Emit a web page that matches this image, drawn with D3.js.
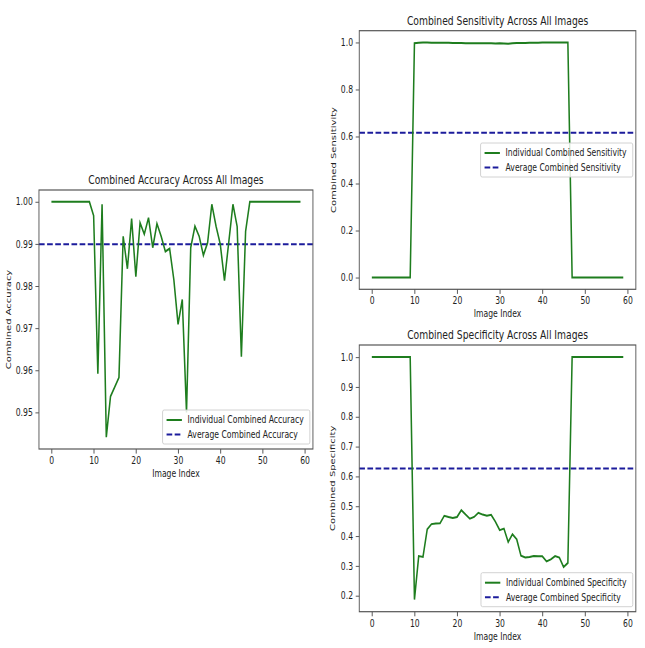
<!DOCTYPE html>
<html>
<head>
<meta charset="utf-8">
<script src="https://cdn.jsdelivr.net/npm/d3@7"></script>
<style>
  body { margin: 0; background: #fff; }
  svg { display: block; }
  text { font-family: "DejaVu Sans", sans-serif; fill: #222; }
</style>
</head>
<body>
<div id="chart"></div>
<script>
// ---- data ----
const imageIndex = d3.range(60);
const xTicks = [0, 10, 20, 30, 40, 50, 60];

const accuracy = [
  1.0, 1.0, 1.0, 1.0, 1.0, 1.0, 1.0, 1.0, 1.0, 1.0,
  0.9967, 0.9592, 0.9994, 0.9441, 0.9538, 0.956, 0.9583, 0.9918, 0.9841, 0.996,
  0.9822, 0.995, 0.9923, 0.9962, 0.9891, 0.9948, 0.9918, 0.9882, 0.9889, 0.9815,
  0.9709, 0.9768, 0.950, 0.9891, 0.9942, 0.9918, 0.9873, 0.9903, 0.9994, 0.9942,
  0.9899, 0.9813, 0.9903, 0.9994, 0.9941, 0.9632, 0.993, 1.0, 1.0, 1.0,
  1.0, 1.0, 1.0, 1.0, 1.0, 1.0, 1.0, 1.0, 1.0, 1.0
];
const sensitivity = [
  0, 0, 0, 0, 0, 0, 0, 0, 0, 0,
  0.997, 0.999, 1.0, 1.0, 0.999, 0.999, 0.999, 0.999, 0.999, 0.998,
  0.998, 0.998, 0.997, 0.997, 0.997, 0.997, 0.997, 0.997, 0.997, 0.996,
  0.997, 0.996, 0.994, 0.997, 0.998, 0.998, 0.998, 0.999, 0.999, 0.999,
  1.0, 1.0, 1.0, 1.0, 1.0, 1.0, 1.0, 0, 0, 0,
  0, 0, 0, 0, 0, 0, 0, 0, 0, 0
];
const specificity = [
  1.0, 1.0, 1.0, 1.0, 1.0, 1.0, 1.0, 1.0, 1.0, 1.0,
  0.187, 0.333, 0.33, 0.423, 0.44, 0.442, 0.443, 0.468, 0.464, 0.461,
  0.464, 0.487, 0.472, 0.458, 0.464, 0.478, 0.472, 0.468, 0.471, 0.448,
  0.42, 0.425, 0.38, 0.406, 0.389, 0.334, 0.328, 0.33, 0.333, 0.332,
  0.332, 0.315, 0.322, 0.333, 0.328, 0.296, 0.31, 1.0, 1.0, 1.0,
  1.0, 1.0, 1.0, 1.0, 1.0, 1.0, 1.0, 1.0, 1.0, 1.0
];
const accTicks = [0.95, 0.96, 0.97, 0.98, 0.99, 1.00];
const senTicks = [0.0, 0.2, 0.4, 0.6, 0.8, 1.0];
const speTicks = [0.2, 0.3, 0.4, 0.5, 0.6, 0.7, 0.8, 0.9, 1.0];

// ---- figure (drawn wide, then squeezed horizontally like the source image) ----
const sx = 0.767;
const W = 645 / sx, H = 648;

const svg = d3.select("#chart").append("svg")
  .attr("width", 645).attr("height", H);
svg.append("rect").attr("width", 645).attr("height", H).attr("fill", "#fff");
const fig = svg.append("g").attr("transform", `scale(${sx},1)`);

function drawPanel(cfg) {
  const { box, values, title, ylabel, yTicks, fmt, names, legend, ylabelDx } = cfg;
  const g = fig.append("g");

  const lo = d3.min(values), hi = d3.max(values);
  const m = (hi - lo) * 0.05;
  const x = d3.scaleLinear().domain([-2.95, 61.95]).range([box.left, box.right]);
  const y = d3.scaleLinear().domain([lo - m, hi + m]).range([box.bottom, box.top]);

  // axes
  const xAxis = g.append("g")
    .attr("transform", `translate(0,${box.bottom})`)
    .call(d3.axisBottom(x).tickValues(xTicks).tickFormat(d3.format("d")).tickSize(4.6).tickPadding(3.5));
  const yAxis = g.append("g")
    .attr("transform", `translate(${box.left},0)`)
    .call(d3.axisLeft(y).tickValues(yTicks).tickFormat(d3.format(fmt)).tickSize(4.6).tickPadding(3.5));
  [xAxis, yAxis].forEach(a => {
    a.select(".domain").remove();
    a.selectAll("line").attr("stroke", "#444");
    a.selectAll("text").attr("font-size", 10).attr("fill", "#222")
      .style("font-family", "'DejaVu Sans', sans-serif");
  });

  // average line
  const avg = d3.mean(values);
  g.append("line")
    .attr("x1", box.left).attr("x2", box.right)
    .attr("y1", y(avg)).attr("y2", y(avg))
    .attr("stroke", "#1c1c9c").attr("stroke-width", 2)
    .attr("stroke-dasharray", "7.4,3.2");

  // series line
  g.append("path")
    .datum(values)
    .attr("fill", "none")
    .attr("stroke", "#1e7d1e")
    .attr("stroke-width", 2)
    .attr("d", d3.line().x((d, i) => x(imageIndex[i])).y(d => y(d)));

  // frame
  g.append("rect")
    .attr("x", box.left).attr("y", box.top)
    .attr("width", box.right - box.left).attr("height", box.bottom - box.top)
    .attr("fill", "none").attr("stroke", "#555").attr("stroke-width", 1.2);

  // title and labels
  g.append("text")
    .attr("x", (box.left + box.right) / 2).attr("y", box.top - 6)
    .attr("text-anchor", "middle").attr("font-size", 12)
    .text(title);
  g.append("text")
    .attr("x", (box.left + box.right) / 2).attr("y", box.bottom + 28)
    .attr("text-anchor", "middle").attr("font-size", 10)
    .text("Image Index");
  g.append("text")
    .attr("transform", `translate(${box.left - ylabelDx},${(box.top + box.bottom) / 2}) rotate(-90)`)
    .attr("text-anchor", "middle").attr("dominant-baseline", "central").attr("font-size", 10)
    .text(ylabel);

  // legend
  const lg = g.append("g");
  const frame = lg.append("rect");
  const texts = names.map((n, i) => lg.append("text")
    .attr("x", 32.6).attr("y", 10 + i * 14.5).attr("dy", "0.35em")
    .attr("font-size", 10).text(n));
  const tw = d3.max(texts, t => t.node().getComputedTextLength());
  const lw = 32.6 + tw + 8, lh = 34;
  frame.attr("width", lw).attr("height", lh).attr("rx", 2)
    .attr("fill", "#fff").attr("fill-opacity", 0.85)
    .attr("stroke", "#ccc").attr("stroke-width", 1);
  lg.append("line").attr("x1", 5.2).attr("x2", 25.2).attr("y1", 10).attr("y2", 10)
    .attr("stroke", "#1e7d1e").attr("stroke-width", 2);
  lg.append("line").attr("x1", 5.2).attr("x2", 25.2).attr("y1", 24.5).attr("y2", 24.5)
    .attr("stroke", "#1c1c9c").attr("stroke-width", 2).attr("stroke-dasharray", "7.4,3.2");
  const lx = box.right - 4 - lw;
  const ly = legend === "lower right" ? box.bottom - 5 - lh : (box.top + box.bottom) / 2 - lh / 2;
  lg.attr("transform", `translate(${lx},${ly})`);
}

drawPanel({
  box: { left: 50.8, right: 408, top: 190, bottom: 449 },
  values: accuracy, yTicks: accTicks, fmt: ".2f",
  title: "Combined Accuracy Across All Images", ylabel: "Combined Accuracy",
  names: ["Individual Combined Accuracy", "Average Combined Accuracy"],
  legend: "lower right", ylabelDx: 40
});
drawPanel({
  box: { left: 468.4, right: 829, top: 30.7, bottom: 289.3 },
  values: sensitivity, yTicks: senTicks, fmt: ".1f",
  title: "Combined Sensitivity Across All Images", ylabel: "Combined Sensitivity",
  names: ["Individual Combined Sensitivity", "Average Combined Sensitivity"],
  legend: "center right", ylabelDx: 34
});
drawPanel({
  box: { left: 468.4, right: 829, top: 345, bottom: 611.7 },
  values: specificity, yTicks: speTicks, fmt: ".1f",
  title: "Combined Specificity Across All Images", ylabel: "Combined Specificity",
  names: ["Individual Combined Specificity", "Average Combined Specificity"],
  legend: "lower right", ylabelDx: 35
});
</script>
</body>
</html>
